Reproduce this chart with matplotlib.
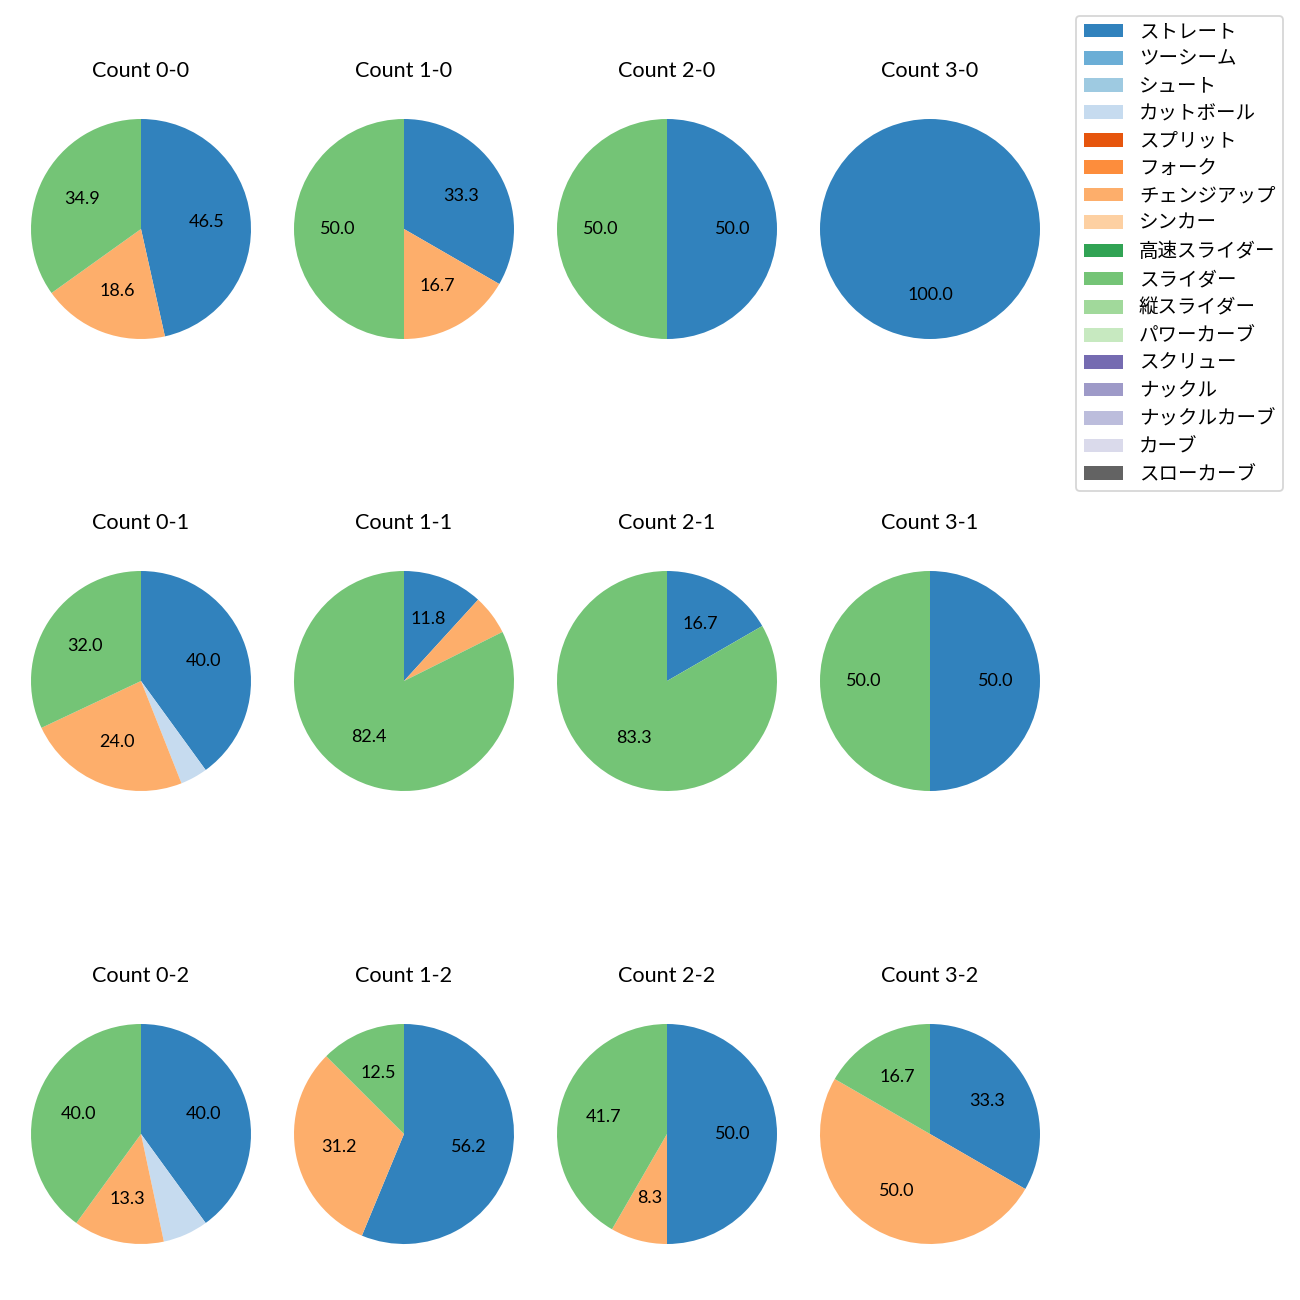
import matplotlib
matplotlib.use("Agg")
import matplotlib.pyplot as plt
from matplotlib.patches import Patch

plt.rcParams['font.family'] = ['Lato', 'Noto Sans CJK JP', 'DejaVu Sans']

pitch_types = ["ストレート", "ツーシーム", "シュート", "カットボール", "スプリット", "フォーク",
               "チェンジアップ", "シンカー", "高速スライダー", "スライダー", "縦スライダー",
               "パワーカーブ", "スクリュー", "ナックル", "ナックルカーブ", "カーブ", "スローカーブ"]
pitch_colors = ["#3182bd", "#6baed6", "#9ecae1", "#c6dbef", "#e6550d", "#fd8d3c",
                "#fdae6b", "#fdd0a2", "#31a354", "#74c476", "#a1d99b", "#c7e9c0",
                "#756bb1", "#9e9ac8", "#bcbddc", "#dadaeb", "#636363"]

counts = ["0-0", "1-0", "2-0", "3-0",
          "0-1", "1-1", "2-1", "3-1",
          "0-2", "1-2", "2-2", "3-2"]

# pitch counts per ball-strike count
data_0_0 = {"ストレート": 20, "チェンジアップ": 8, "スライダー": 15}
data_1_0 = {"ストレート": 2, "チェンジアップ": 1, "スライダー": 3}
data_2_0 = {"ストレート": 1, "スライダー": 1}
data_3_0 = {"ストレート": 1}
data_0_1 = {"ストレート": 10, "カットボール": 1, "チェンジアップ": 6, "スライダー": 8}
data_1_1 = {"ストレート": 2, "チェンジアップ": 1, "スライダー": 14}
data_2_1 = {"ストレート": 1, "スライダー": 5}
data_3_1 = {"ストレート": 1, "スライダー": 1}
data_0_2 = {"ストレート": 6, "カットボール": 1, "チェンジアップ": 2, "スライダー": 6}
data_1_2 = {"ストレート": 9, "チェンジアップ": 5, "スライダー": 2}
data_2_2 = {"ストレート": 6, "チェンジアップ": 1, "スライダー": 5}
data_3_2 = {"ストレート": 2, "チェンジアップ": 3, "スライダー": 1}

all_data = [data_0_0, data_1_0, data_2_0, data_3_0,
            data_0_1, data_1_1, data_2_1, data_3_1,
            data_0_2, data_1_2, data_2_2, data_3_2]

W = H = 1300
fig = plt.figure(figsize=(10, 10), dpi=130)

cx = [141, 404, 667, 930]
cy = [229, 681, 1134]
size = 275

color_map = dict(zip(pitch_types, pitch_colors))

for i, (c, d) in enumerate(zip(counts, all_data)):
    r, col = divmod(i, 4)
    x0 = (cx[col] - size / 2) / W
    y0 = 1 - (cy[r] + size / 2) / H
    ax = fig.add_axes([x0, y0, size / W, size / H])
    labels = list(d.keys())
    vals = list(d.values())
    cols = [color_map[l] for l in labels]
    ax.pie(vals, colors=cols, startangle=90, counterclock=False,
           autopct=lambda p: f"{p:.1f}" if p >= 7 else "",
           textprops={'fontsize': 10})
    ax.set_title(f"Count {c}", fontsize=12, pad=8)

handles = [Patch(facecolor=c, label=l) for l, c in zip(pitch_types, pitch_colors)]
fig.legend(handles=handles, loc='upper right', bbox_to_anchor=(0.987, 0.988),
           borderaxespad=0, fontsize=10.8, labelspacing=0.52)

fig.savefig("out.png", dpi=130)
